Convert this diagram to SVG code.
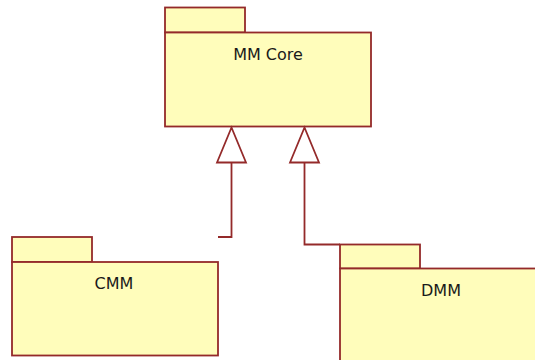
<svg xmlns="http://www.w3.org/2000/svg" width="535" height="360" viewBox="0 0 535 360">
<style>
.pk{fill:#fffdbb;stroke:#942a2a;stroke-width:1.8}
.lbl{font-family:"DejaVu Sans",sans-serif;font-size:16px;fill:#1a1a1a;text-anchor:middle}
.cn{fill:none;stroke:#942a2a;stroke-width:1.8}
.hd{fill:#ffffff;stroke:#942a2a;stroke-width:1.8}
</style>
<rect width="535" height="360" fill="#ffffff"/>
<g id="mmcore">
<rect class="pk" x="165" y="7.5" width="80" height="25"/>
<rect class="pk" x="165" y="32.5" width="206" height="94"/>
<text class="lbl" x="268" y="60">MM Core</text>
</g>
<g id="cmm">
<rect class="pk" x="12" y="237" width="80" height="25"/>
<rect class="pk" x="12" y="262" width="206" height="93.5"/>
<text class="lbl" x="114" y="288.5">CMM</text>
</g>
<g id="dmm">
<rect class="pk" x="340" y="244.5" width="80" height="24"/>
<rect class="pk" x="340" y="268.5" width="210" height="100"/>
<text class="lbl" x="441" y="296">DMM</text>
</g>
<g id="connectors">
<polyline class="cn" points="218,237 231.5,237 231.5,162.5"/>
<polygon class="hd" points="231.5,127.5 217,162.5 246,162.5"/>
<polyline class="cn" points="340,244.5 304.5,244.5 304.5,162.5"/>
<polygon class="hd" points="304.5,127.5 290,162.5 319,162.5"/>
</g>
</svg>
